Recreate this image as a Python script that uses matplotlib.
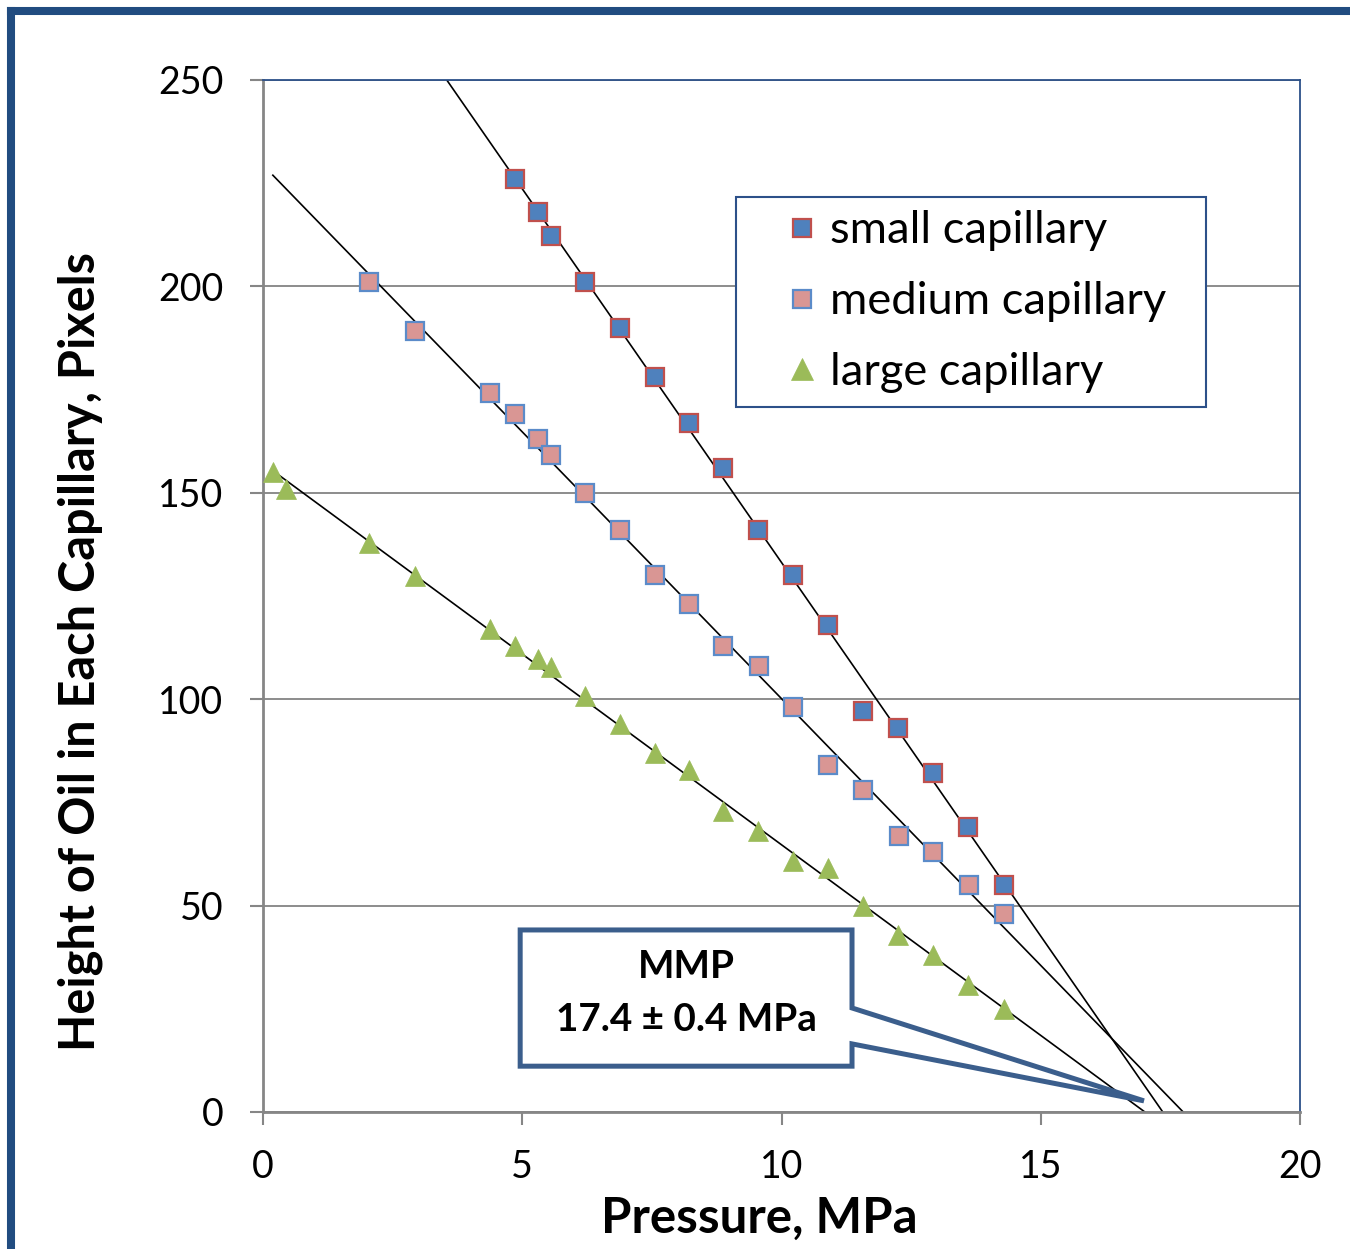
import numpy as np
import matplotlib
matplotlib.use("Agg")
import matplotlib.pyplot as plt
from matplotlib.lines import Line2D
from matplotlib.patches import Rectangle, Polygon

# ---------------- data ----------------
small_p = [4.86, 5.30, 5.55, 6.21, 6.89, 7.56, 8.22, 8.87, 9.55, 10.22, 10.90,
           11.57, 12.25, 12.92, 13.60, 14.29]
small_h = [226.0, 218.0, 212.2, 201.1, 189.9, 178.1, 166.9, 156.0, 141.0, 130.1,
           118.0, 97.1, 93.0, 82.1, 69.0, 55.0]

medium_p = [2.04, 2.93, 4.38, 4.86, 5.30, 5.55, 6.21, 6.89, 7.56, 8.22, 8.87,
            9.57, 10.22, 10.90, 11.57, 12.27, 12.92, 13.62, 14.29]
medium_h = [201.1, 189.2, 174.2, 169.1, 163.0, 159.2, 150.0, 141.0, 130.1, 123.1,
            112.9, 108.0, 98.1, 84.1, 78.0, 66.9, 63.0, 55.0, 48.0]

large_p = [0.19, 0.44, 2.04, 2.93, 4.38, 4.86, 5.30, 5.55, 6.21, 6.89, 7.56,
           8.22, 8.87, 9.55, 10.22, 10.90, 11.57, 12.25, 12.92, 13.60, 14.29]
large_h = [155.0, 150.9, 137.8, 129.8, 117.0, 112.9, 109.7, 107.8, 100.8, 94.0,
           87.0, 82.8, 72.9, 68.1, 60.8, 59.1, 49.9, 42.9, 38.0, 30.8, 25.0]

labels = ["small capillary", "medium capillary", "large capillary"]
x_ticks = [0, 5, 10, 15, 20]
y_ticks = [0, 50, 100, 150, 200, 250]
mmp_text = "MMP\n17.4 \u00b1 0.4 MPa"

# ---------------- style ----------------
plt.rcParams['font.family'] = ['Lato', 'DejaVu Sans']
FS = 27

fig = plt.figure(figsize=(13.5, 12.49), dpi=100)
ax = fig.add_axes([263/1350, 137/1249, 1037/1350, 1032/1249])
ax.set_xlim(0, 20)
ax.set_ylim(0, 250)

gray = '#868686'
blue_frame = '#2C5089'
ax.set_xticks(x_ticks)
ax.set_yticks(y_ticks)
ax.tick_params(axis='both', direction='out', length=9.4, width=1.5, color=gray,
               labelsize=FS)
ax.tick_params(axis='y', pad=19)
ax.tick_params(axis='x', pad=17)
for s in ['left', 'bottom']:
    ax.spines[s].set_color(gray)
    ax.spines[s].set_linewidth(2.0)
for s in ['top', 'right']:
    ax.spines[s].set_color(blue_frame)
    ax.spines[s].set_linewidth(1.3)
ax.yaxis.grid(True, color='#8C8C8C', linewidth=1.4)
ax.set_axisbelow(True)

# trend lines (least-squares fits, extended to zero height)
x_start = min(large_p)
for px, hy in [(small_p, small_h), (medium_p, medium_h), (large_p, large_h)]:
    m, b = np.polyfit(px, hy, 1)
    x_end = -b / m
    xs = np.array([x_start, x_end])
    ax.plot(xs, m * xs + b, color='black', linewidth=1.2, zorder=2)

h1, = ax.plot(small_p, small_h, linestyle='none', marker='s', markersize=12.5,
              markerfacecolor='#4F81BD', markeredgecolor='#C0504D',
              markeredgewidth=1.6, zorder=3, label=labels[0])
h2, = ax.plot(medium_p, medium_h, linestyle='none', marker='s', markersize=12.5,
              markerfacecolor='#D99694', markeredgecolor='#5B8BC9',
              markeredgewidth=1.6, zorder=3, label=labels[1])
h3, = ax.plot(large_p, large_h, linestyle='none', marker='^', markersize=14.5,
              markerfacecolor='#9BBB59', markeredgecolor='#9BBB59',
              markeredgewidth=0.5, zorder=3, label=labels[2])

ax.set_xlabel("Pressure, MPa", fontsize=35.5, fontweight='bold', va='center')
ax.xaxis.set_label_coords(0.479, -0.1027)
ax.set_ylabel("Height of Oil in Each Capillary, Pixels", fontsize=35,
              fontweight='bold', va='center')
ax.yaxis.set_label_coords(-0.1765, 0.446)

# legend frame + legend
ax.add_patch(Rectangle((0.456, 0.683), 0.453, 0.204, transform=ax.transAxes,
                       facecolor='white', edgecolor=blue_frame, linewidth=1.5,
                       zorder=4.5, clip_on=False))
LFS = 32.6
leg = ax.legend(handles=[h1, h2, h3], loc='center left',
                bbox_to_anchor=(0.4975, 0.785), frameon=False, fontsize=LFS,
                handlelength=1.0, handletextpad=0.12, borderpad=0,
                borderaxespad=0, labelspacing=0.66, markerscale=1.05,
                numpoints=1)
leg.set_zorder(5)

# callout box
cx0, cx1 = 4.96, 11.36
cy0, cy1 = 11.1, 44.1
tip = (16.99, 2.7)
callout = Polygon([(cx0, cy0), (cx0, cy1), (cx1, cy1), (cx1, 25.2), tip,
                   (cx1, 16.5), (cx1, cy0)], closed=True, facecolor='white',
                  edgecolor='#3B5E8C', linewidth=3.6, joinstyle='miter',
                  zorder=6, clip_on=False)
ax.add_patch(callout)
ax.text((cx0 + cx1) / 2, (cy0 + cy1) / 2 + 1.2, mmp_text, ha='center',
        va='center', fontsize=27.8, fontweight='bold', linespacing=1.6, zorder=7)

# outer frame (left and top edges)
fig.add_artist(Line2D([10.5/1350, 10.5/1350], [-0.01, 1 - 11/1249],
                      color='#214C80', linewidth=5.8, solid_capstyle='projecting'))
fig.add_artist(Line2D([10.5/1350, 1.01], [1 - 11/1249, 1 - 11/1249],
                      color='#214C80', linewidth=5.8, solid_capstyle='projecting'))

fig.savefig("out.png", dpi=100)
